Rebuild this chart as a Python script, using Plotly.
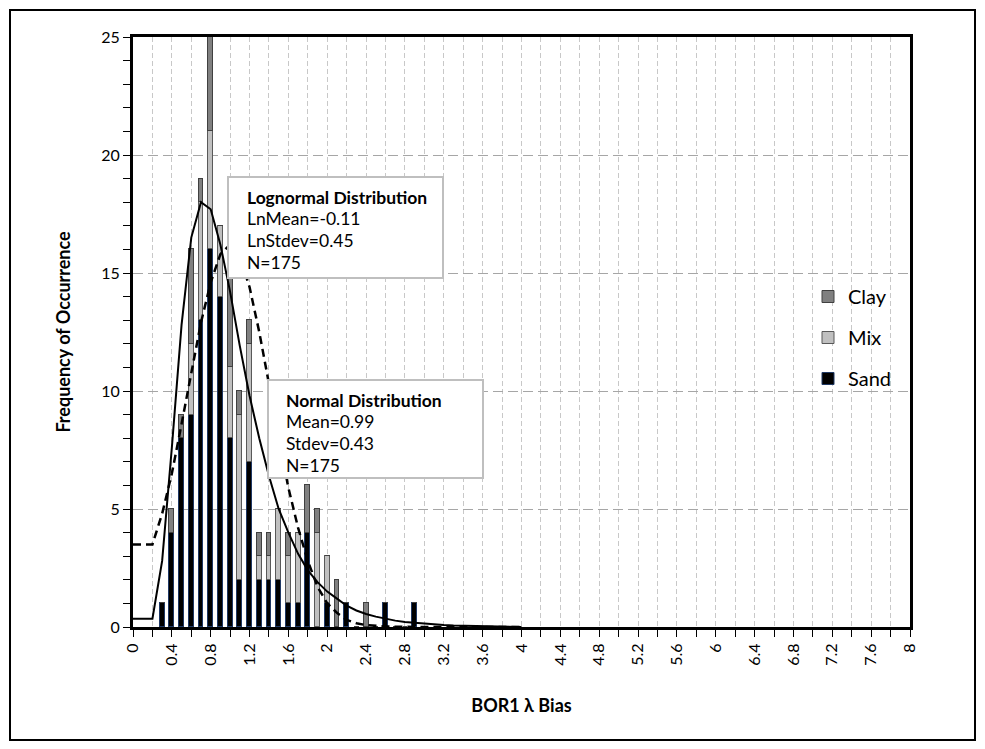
import plotly.graph_objects as go

# ---------------- data ----------------
bias_bins = [0.3, 0.4, 0.5, 0.6, 0.7, 0.8, 0.9, 1.0, 1.1, 1.2, 1.3, 1.4, 1.5, 1.6,
             1.7, 1.8, 1.9, 2.0, 2.1, 2.2, 2.3, 2.4, 2.5, 2.6, 2.7, 2.8, 2.9]
sand = [1, 4, 8, 9, 13, 16, 14, 8, 2, 7, 2, 2, 2, 1, 1, 4, 0, 1, 0, 1, 0, 0, 0, 1, 0, 0, 1]
mix = [0, 0, 0, 3, 5, 5, 3, 3, 7, 5, 1, 1, 3, 2, 3, 0, 4, 2, 0, 0, 0, 0, 0, 0, 0, 0, 0]
clay = [0, 1, 1, 4, 1, 4, 0, 8, 1, 1, 1, 1, 0, 1, 0, 2, 1, 0, 2, 0, 0, 1, 0, 0, 0, 0, 0]

curve_x = [0.0, 0.1, 0.2, 0.3, 0.4, 0.5, 0.6, 0.7, 0.8, 0.9, 1.0, 1.1, 1.2, 1.3, 1.4,
           1.5, 1.6, 1.7, 1.8, 1.9, 2.0, 2.1, 2.2, 2.3, 2.4, 2.5, 2.6, 2.7, 2.8, 2.9,
           3.0, 3.1, 3.2, 3.3, 3.4, 3.5, 3.6, 3.7, 3.8, 3.9, 4.0]
lognormal_fit = [0.35, 0.35, 0.35, 2.8, 7.6, 12.8, 16.5, 18.0, 17.7, 16.2, 14.2, 11.9,
                 9.8, 8.0, 6.4, 5.0, 4.0, 3.1, 2.4, 1.9, 1.5, 1.2, 0.9, 0.7, 0.55, 0.44,
                 0.34, 0.27, 0.21, 0.17, 0.13, 0.1, 0.08, 0.06, 0.05, 0.04, 0.03, 0.02,
                 0.0, 0.0, 0.0]
normal_fit = [3.5, 3.5, 3.5, 4.8, 6.5, 8.6, 10.8, 12.9, 14.6, 15.8, 16.2, 15.7, 14.4,
              12.5, 10.3, 8.0, 5.9, 4.2, 2.8, 1.7, 1.0, 0.6, 0.3, 0.16, 0.08, 0.04, 0.02,
              0.01, 0.0, 0.0, 0.0, 0.0, 0.0, 0.0, 0.0, 0.0, 0.0, 0.0, 0.0, 0.0, 0.0]

x_tick_values = [round(i * 0.2, 1) for i in range(41)]
x_tick_labels = ["0", "", "0.4", "", "0.8", "", "1.2", "", "1.6", "", "2", "", "2.4", "",
                 "2.8", "", "3.2", "", "3.6", "", "4", "", "4.4", "", "4.8", "", "5.2", "",
                 "5.6", "", "6", "", "6.4", "", "6.8", "", "7.2", "", "7.6", "", "8"]

lognormal_lines = ["<b>Lognormal Distribution</b>", "LnMean=-0.11", "LnStdev=0.45", "N=175"]
normal_lines = ["<b>Normal Distribution</b>", "Mean=0.99", "Stdev=0.43", "N=175"]

FONT = "Lato, 'Open Sans', sans-serif"

# ---------------- figure ----------------
W, H = 985, 749
L, R, T, B = 133, 910, 37, 627


def px(x):
    return (x - L) / (R - L)


def py(y):
    return (B - y) / (B - T)


fig = go.Figure()
fig.add_trace(go.Bar(x=bias_bins, y=sand, name="Sand", width=0.05, legendgroup="sand",
                     legendrank=3,
                     marker=dict(color="#000000", line=dict(color="#1f3864", width=1))))
fig.add_trace(go.Bar(x=bias_bins, y=mix, name="Mix", width=0.05, legendgroup="mix",
                     legendrank=2,
                     marker=dict(color="#c0c0c0", line=dict(color="#595959", width=1))))
fig.add_trace(go.Bar(x=bias_bins, y=clay, name="Clay", width=0.05, legendgroup="clay",
                     legendrank=1,
                     marker=dict(color="#808080", line=dict(color="#404040", width=1))))
fig.add_trace(go.Scatter(x=curve_x, y=normal_fit, mode="lines", showlegend=False,
                         line=dict(color="black", width=2.5, dash="8px,5px")))
fig.add_trace(go.Scatter(x=curve_x, y=lognormal_fit, mode="lines", showlegend=False,
                         line=dict(color="black", width=2)))

shapes = [
    # outer frame
    dict(type="rect", xref="paper", yref="paper", x0=px(10), x1=px(975), y0=py(740), y1=py(10),
         line=dict(color="black", width=2), fillcolor="rgba(0,0,0,0)", layer="above"),
    dict(type="rect", xref="paper", yref="paper", x0=px(228), x1=px(443), y0=py(278), y1=py(177),
         line=dict(color="#bfbfbf", width=2), fillcolor="white", layer="above"),
    dict(type="rect", xref="paper", yref="paper", x0=px(268), x1=px(483), y0=py(478), y1=py(380),
         line=dict(color="#bfbfbf", width=2), fillcolor="white", layer="above"),
]

annotations = []
for i, t in enumerate(lognormal_lines):
    annotations.append(dict(text=t, xref="paper", yref="paper", x=px(245), y=py(197 + 21.7 * i),
                            xanchor="left", yanchor="middle", showarrow=False,
                            font=dict(family=FONT, size=17.5, color="black")))
for i, t in enumerate(normal_lines):
    annotations.append(dict(text=t, xref="paper", yref="paper", x=px(284), y=py(400 + 21.7 * i),
                            xanchor="left", yanchor="middle", showarrow=False,
                            font=dict(family=FONT, size=17.5, color="black")))

fig.update_layout(
    width=W, height=H, barmode="stack", bargap=0,
    margin=dict(l=L, r=W - R, t=T, b=H - B, autoexpand=False),
    paper_bgcolor="white", plot_bgcolor="white",
    font=dict(family=FONT, size=16, color="black"),
    shapes=shapes, annotations=annotations,
    legend=dict(x=px(808), y=py(277), xanchor="left", yanchor="top",
                traceorder="grouped", tracegroupgap=12,
                font=dict(family=FONT, size=20, color="black"), bgcolor="rgba(0,0,0,0)",
                itemclick=False),
    xaxis=dict(range=[0, 8], tickmode="array", tickvals=x_tick_values, ticktext=x_tick_labels,
               tickangle=-90, ticks="outside", ticklen=7, tickcolor="black", tickwidth=1,
               showline=True, linecolor="black", linewidth=3, mirror=True,
               showgrid=True, gridcolor="#c8c8c8", gridwidth=1, griddash="5px,3px",
               zeroline=False, tickfont=dict(size=16),
               title=dict(text="<b>BOR1 λ Bias</b>", font=dict(size=18), standoff=35)),
    yaxis=dict(range=[0, 25], tickmode="linear", tick0=0, dtick=5, ticks="outside", ticklen=7,
               tickcolor="black", tickwidth=1,
               minor=dict(dtick=1, ticks="outside", ticklen=7, tickcolor="black", showgrid=False),
               showline=True, linecolor="black", linewidth=3, mirror=True,
               showgrid=True, gridcolor="#a6a6a6", gridwidth=1, griddash="10px,5px",
               zeroline=False, tickfont=dict(size=16),
               title=dict(text="<b>Frequency of Occurrence</b>", font=dict(size=18), standoff=26)),
)

fig.write_html("out.html")
